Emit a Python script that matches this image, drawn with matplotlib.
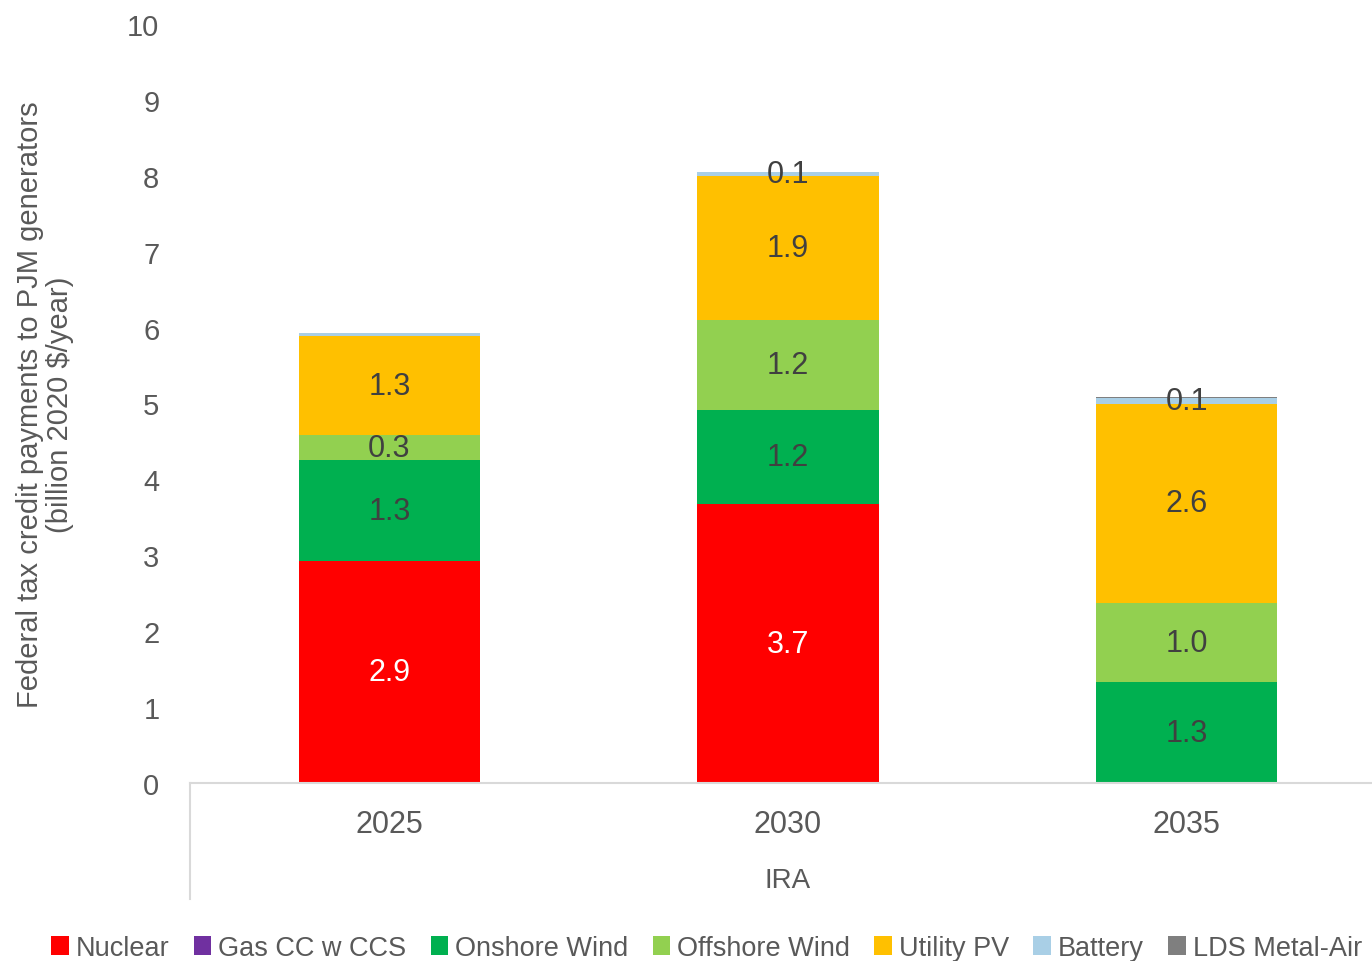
import matplotlib.pyplot as plt
import numpy as np
from matplotlib.lines import Line2D

plt.rcParams['font.family'] = ['Liberation Sans', 'DejaVu Sans']

years = ['2025', '2030', '2035']
series = ['Nuclear', 'Gas CC w CCS', 'Onshore Wind', 'Offshore Wind',
          'Utility PV', 'Battery', 'LDS Metal-Air']
nuclear = [2.92, 3.67, 0.0]
gas_ccs = [0.0, 0.0, 0.0]
onshore = [1.33, 1.24, 1.33]
offshore = [0.33, 1.19, 1.04]
utility_pv = [1.31, 1.90, 2.63]
battery = [0.04, 0.055, 0.07]
lds = [0.0, 0.0, 0.01]
colors = ['#ff0000', '#7030a0', '#00b050', '#92d050', '#ffc000', '#a9cfe6', '#7f7f7f']

values = [nuclear, gas_ccs, onshore, offshore, utility_pv, battery, lds]

fig = plt.figure(figsize=(13.72, 9.62), dpi=100)
ax = fig.add_axes([190/1372, 178/962, 1196/1372, 759/962])

x = np.arange(len(years))
bottom = np.zeros(len(years))
for name, vals, col in zip(series, values, colors):
    vals = np.array(vals)
    ax.bar(x, vals, 0.455, bottom=bottom, color=col, label=name, zorder=2)
    for i, v in enumerate(vals):
        if v >= 0.05 and name not in ('Gas CC w CCS', 'LDS Metal-Air'):
            tc = 'white' if name == 'Nuclear' else '#404040'
            ax.text(x[i], bottom[i] + v / 2, '%.1f' % v, ha='center', va='center',
                    fontsize=22, color=tc, zorder=3)
    bottom += vals

ax.set_xlim(-0.5, 2.5)
ax.set_ylim(0, 10)
ax.set_yticks(range(0, 11))
ax.set_xticks(x)
ax.set_xticklabels(years)
ax.tick_params(axis='x', length=0, pad=19, labelsize=22, labelcolor='#595959')
ax.tick_params(axis='y', length=0, pad=22, labelsize=21, labelcolor='#595959')
for s in ['left', 'right', 'top']:
    ax.spines[s].set_visible(False)
ax.spines['bottom'].set_color('#d9d9d9')
ax.spines['bottom'].set_linewidth(1.5)

# category group separator + group label
ax.add_line(Line2D([0, 0], [0, -116/759], transform=ax.transAxes,
                   color='#d9d9d9', lw=1.5, clip_on=False))
ax.text(0.5, -97/759, 'IRA', transform=ax.transAxes, ha='center', va='center',
        fontsize=20, color='#595959')

ax.set_ylabel('Federal tax credit payments to PJM generators\n(billion 2020 $/year)',
              fontsize=21, color='#595959', linespacing=1.1)
ax.yaxis.set_label_coords(-0.097, 0.5)

fig.legend(loc='center', bbox_to_anchor=(0.515, 0.0135), ncol=7, frameon=False,
           fontsize=19.5, handlelength=0.65, handleheight=0.65, handletextpad=0.25,
           columnspacing=0.9, labelcolor='#595959', borderaxespad=0)

fig.savefig('out.png', dpi=100)
